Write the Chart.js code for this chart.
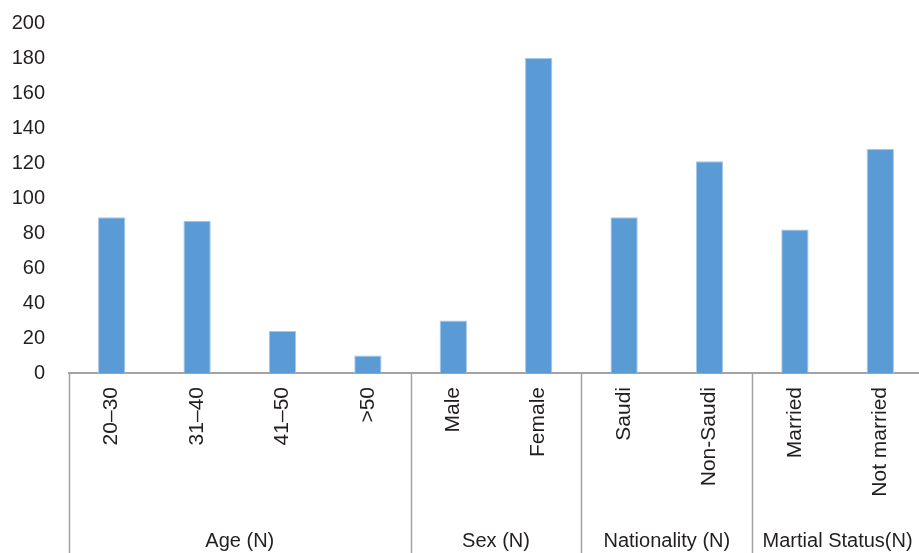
<!DOCTYPE html>
<html>
<head>
<meta charset="utf-8">
<script src="https://cdn.jsdelivr.net/npm/chart.js@4/dist/chart.umd.min.js"></script>
<style>
  html, body { margin: 0; padding: 0; overflow: hidden; background: #fff; }
  #wrap { width: 923px; height: 553px; }
</style>
</head>
<body>
<div id="wrap"><canvas id="c"></canvas></div>
<script>
// Respondent characteristics: counts per category
const categories = ['20–30', '31–40', '41–50', '>50', 'Male', 'Female', 'Saudi', 'Non-Saudi', 'Married', 'Not married'];
const counts = [89, 87, 24, 10, 30, 180, 89, 121, 82, 128];

// Category groups shown beneath the rotated labels (name + number of categories)
const groupNames = ['Age (N)', 'Sex (N)', 'Nationality (N)', 'Martial Status(N)'];
const groupSizes = [4, 2, 2, 2];

const yTicks = [0, 20, 40, 60, 80, 100, 120, 140, 160, 180, 200];

const FONT = "'Liberation Sans', Arial, Helvetica, sans-serif";
const TEXT = '#231f20';
const AXIS = '#a3a3a3';

// Draws the group separators and group captions under the category axis
const groupAxis = {
  id: 'groupAxis',
  afterDraw(chart) {
    const { ctx, scales: { x }, chartArea } = chart;
    const bottom = chart.height;
    const top = chartArea.bottom;
    const edgeAt = (i) => {
      if (i <= 0) return chartArea.left;
      if (i >= categories.length) return chartArea.right;
      return (x.getPixelForValue(i - 1) + x.getPixelForValue(i)) / 2;
    };
    ctx.save();
    ctx.strokeStyle = AXIS;
    ctx.lineWidth = 1.5;
    let start = 0;
    const edges = [0];
    groupSizes.forEach(n => { start += n; edges.push(start); });
    edges.forEach((e, k) => {
      if (k === edges.length - 1) return;
      const px = Math.round(edgeAt(e)) + 0.5;
      ctx.beginPath();
      ctx.moveTo(px, top);
      ctx.lineTo(px, bottom);
      ctx.stroke();
    });
    ctx.fillStyle = TEXT;
    ctx.font = '20px ' + FONT;
    ctx.textAlign = 'center';
    ctx.textBaseline = 'middle';
    groupNames.forEach((name, k) => {
      const cx = (edgeAt(edges[k]) + edgeAt(edges[k + 1])) / 2;
      ctx.fillText(name, cx, 541);
    });
    ctx.restore();
  }
};

new Chart(document.getElementById('c'), {
  type: 'bar',
  data: {
    labels: categories,
    datasets: [{
      data: counts,
      backgroundColor: '#5b9bd5',
      borderColor: '#a7c8e9',
      borderWidth: { left: 1, right: 1, top: 1, bottom: 0 },
      categoryPercentage: 1,
      barPercentage: 0.32
    }]
  },
  options: {
    responsive: true,
    maintainAspectRatio: false,
    animation: false,
    layout: { padding: { top: 23, right: 0, left: 0, bottom: 0 } },
    plugins: { legend: { display: false }, tooltip: { enabled: false } },
    scales: {
      x: {
        grid: { display: false, drawTicks: false },
        border: { display: true, color: AXIS, width: 2 },
        ticks: {
          color: TEXT,
          font: { family: FONT, size: 21 },
          minRotation: 90,
          maxRotation: 90,
          padding: 14,
          autoSkip: false
        },
        afterFit(scale) { scale.height = 180; }
      },
      y: {
        min: 0,
        max: 200,
        // invisible tick marks keep the labels clear of the plot edge
        grid: { display: false, drawTicks: true, tickLength: 24, color: 'rgba(0,0,0,0)' },
        border: { display: false },
        afterBuildTicks(scale) { scale.ticks = yTicks.map(v => ({ value: v })); },
        ticks: {
          color: TEXT,
          font: { family: FONT, size: 20 },
          padding: 0
        },
        afterFit(scale) { scale.width = 69; }
      }
    }
  },
  plugins: [groupAxis]
});
</script>
</body>
</html>
